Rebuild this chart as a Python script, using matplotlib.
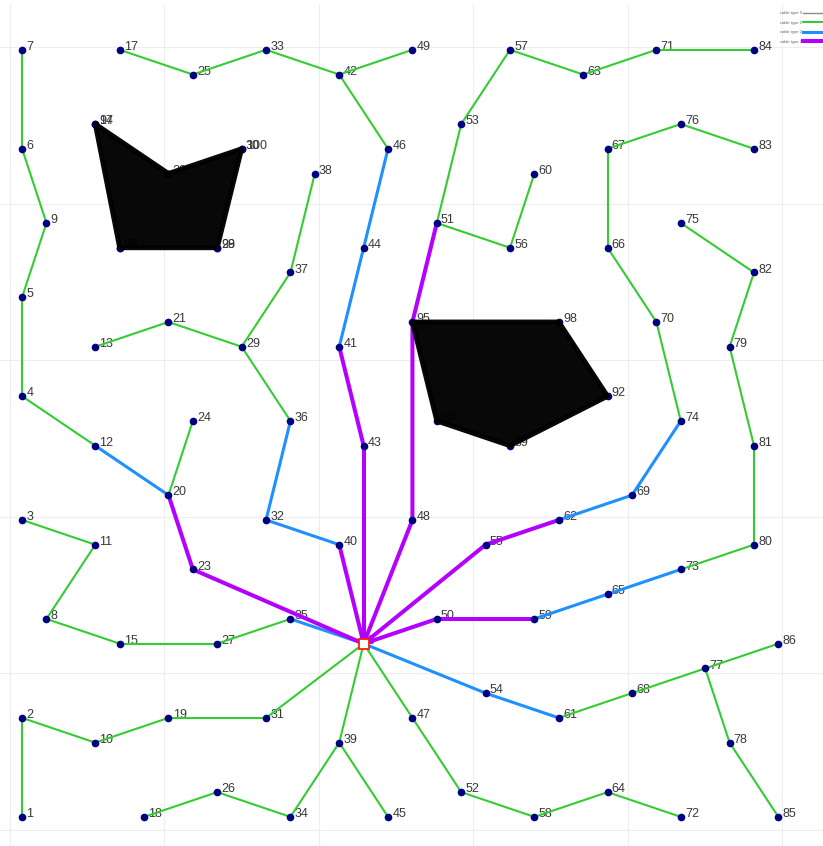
import numpy as np
import matplotlib.pyplot as plt
from matplotlib.lines import Line2D
from matplotlib.patches import Polygon

plt.rcParams['font.family'] = ['Liberation Sans', 'DejaVu Sans']

# turbine positions on the layout lattice (column, row; row 0 at the bottom)
# node 0 is the substation
node_col = [14, 0, 0, 0, 0, 0, 0, 0, 1, 1,
            3, 3, 3, 3, 3, 4, 4, 4, 5, 6,
            6, 6, 6, 7, 7, 7, 8, 8, 8, 9,
            9, 10, 10, 10, 11, 11, 11, 11, 12, 13,
            13, 13, 13, 14, 14, 15, 15, 16, 16, 16,
            17, 17, 18, 18, 19, 19, 20, 20, 21, 21,
            21, 22, 22, 23, 24, 24, 24, 24, 25, 25,
            26, 26, 27, 27, 27, 27, 27, 28, 29, 29,
            30, 30, 30, 30, 30, 31, 31]
node_row = [7, 0, 4, 12, 17, 21, 27, 31, 8, 24,
            3, 11, 15, 19, 28, 7, 23, 31, 0, 4,
            13, 20, 26, 10, 16, 30, 1, 7, 23, 19,
            27, 4, 12, 31, 0, 8, 16, 22, 26, 3,
            11, 19, 30, 15, 23, 0, 27, 4, 12, 31,
            8, 24, 1, 28, 5, 11, 23, 31, 0, 8,
            26, 4, 12, 30, 1, 9, 23, 27, 5, 13,
            20, 31, 0, 10, 16, 24, 28, 6, 3, 19,
            11, 15, 22, 27, 31, 0, 7]

# lattice pitch and offset of the first row/column, metres
pitch = 158.0
x_off = 78.0
y_off = 84.0

# cable segments (node pairs) for each cable type
cables_1 = [(7, 6), (6, 9), (9, 5), (5, 4), (4, 12), (20, 24),
            (17, 25), (25, 33), (33, 42), (42, 49), (42, 46),
            (13, 21), (21, 29), (29, 37), (37, 38), (29, 36),
            (3, 11), (11, 8), (8, 15), (15, 27), (27, 35),
            (1, 2), (2, 10), (10, 19), (19, 31), (31, 0),
            (18, 26), (26, 34), (34, 39), (39, 0), (39, 45),
            (0, 47), (47, 52), (52, 58), (58, 64), (64, 72),
            (61, 68), (68, 77), (77, 86), (77, 78), (78, 85),
            (73, 80), (80, 81), (81, 79), (79, 82), (82, 75),
            (74, 70), (70, 66), (66, 67), (67, 76), (76, 83),
            (51, 53), (53, 57), (57, 63), (63, 71), (71, 84),
            (51, 56), (56, 60)]
cables_2 = [(12, 20), (46, 44), (44, 41), (36, 32), (32, 40), (35, 0),
            (0, 54), (54, 61), (59, 65), (65, 73), (62, 69), (69, 74)]
cables_3 = [(20, 23), (23, 0), (41, 43), (43, 0), (40, 0), (0, 50),
            (50, 59), (0, 55), (55, 62), (0, 48)]
# type 3 cable from 48 to 51 routed round the corner of zone B
detour_col = [16, 16, 17]
detour_row = [12, 20, 24]

# exclusion zones (lattice coords) with their corner labels
zone_a_col = [3, 6, 9, 8, 4]
zone_a_row = [28, 26, 27, 23, 23]
zone_a_lbl = ['97', '', '100', '99', '98']
zone_b_col = [16, 22, 24, 20, 17]
zone_b_row = [20, 20, 17, 15, 16]
zone_b_lbl = ['95', '98', '92', '89', '90']

cable_types = ['cable type 0', 'cable type 1', 'cable type 2', 'cable type 3']
cable_colors = ['#8c8c8c', '#33cc33', '#1e90ff', '#b400ff']
cable_widths = [1.0, 1.5, 2.2, 2.9]

def to_m(col, row):
    return x_off + pitch * np.asarray(col, float), y_off + pitch * np.asarray(row, float)

x, y = to_m(node_col, node_row)

fig = plt.figure(figsize=(8.23, 8.46), dpi=100)
ax = fig.add_axes([0, 0, 1, 841 / 846])

# cables
for edges, color, lw in zip([cables_1, cables_2, cables_3], cable_colors[1:], cable_widths[1:]):
    for a, b in edges:
        ax.plot([x[a], x[b]], [y[a], y[b]], color=color, lw=lw,
                solid_capstyle='round', zorder=2)
dx, dy = to_m(detour_col, detour_row)
ax.plot(dx, dy, color=cable_colors[3], lw=cable_widths[3],
        solid_capstyle='round', solid_joinstyle='round', zorder=2)

# turbines and substation
ax.plot(x[1:], y[1:], 'o', color='#000080', ms=4.5, zorder=3)
ax.plot(x[0], y[0], 's', mfc='white', mec='#ff2000', ms=6.5, mew=1.3, zorder=5)

lbl_kw = dict(textcoords='offset points', xytext=(3, 2), ha='left', va='center',
              fontsize=9, color='#383838', zorder=1.5)
for n in range(len(x)):
    ax.annotate(str(n), (x[n], y[n]), **lbl_kw)

# exclusion zones
for cols, rows, lbls in [(zone_a_col, zone_a_row, zone_a_lbl),
                         (zone_b_col, zone_b_row, zone_b_lbl)]:
    px, py = to_m(cols, rows)
    ax.add_patch(Polygon(np.column_stack([px, py]), closed=True, fc='black', ec='black',
                         lw=3.5, joinstyle='round', alpha=0.97, zorder=4))
    ax.plot(px, py, 'o', color='#000080', ms=4.5, zorder=3)
    for xi, yi, t in zip(px, py, lbls):
        if t:
            ax.annotate(t, (xi, yi), **lbl_kw)

# 1 km grid, no tick labels
ax.set_xticks(np.arange(0, 5001, 1000))
ax.set_yticks(np.arange(0, 5001, 1000))
ax.grid(True, color='#ededed', lw=0.8)
ax.set_axisbelow(True)
ax.tick_params(length=0, labelbottom=False, labelleft=False)
for s in ax.spines.values():
    s.set_visible(False)
ax.set_xlim(-65, 5265)
ax.set_ylim(-102, 5268)

handles = [Line2D([], [], color=c, lw=w) for c, w in zip(cable_colors, cable_widths)]
leg = ax.legend(handles, cable_types, loc='upper right', bbox_to_anchor=(1.009, 0.987),
                bbox_transform=fig.transFigure, fontsize=3, frameon=False, markerfirst=False,
                handlelength=6.5, handletextpad=0.4, labelspacing=1.35,
                borderpad=0, borderaxespad=0)
for t in leg.get_texts():
    t.set_color('#666666')

fig.savefig('out.png', dpi=100)
